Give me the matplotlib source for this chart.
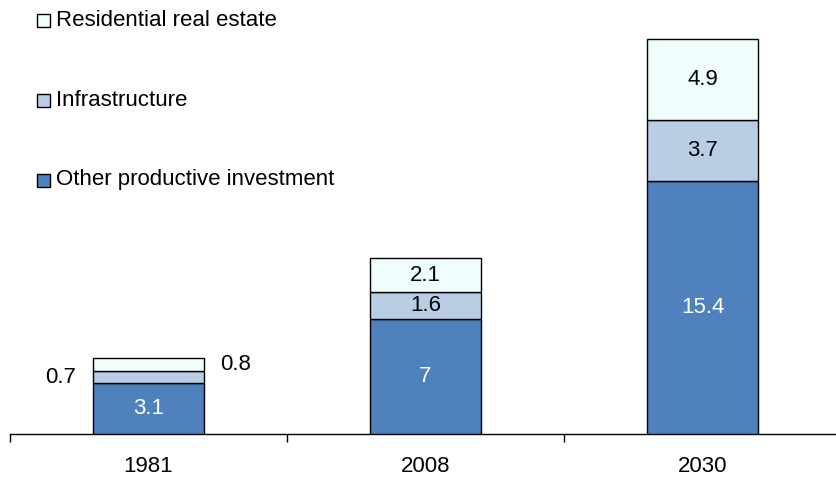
import matplotlib.pyplot as plt
from matplotlib.patches import Rectangle

plt.rcParams['font.family'] = ['Liberation Sans', 'DejaVu Sans']

anos = ['1981', '2008', '2030']
outro_produtivo = [3.1, 7, 15.4]
infraestrutura = [0.7, 1.6, 3.7]
residencial = [0.8, 2.1, 4.9]

series = ['Other productive investment', 'Infrastructure', 'Residential real estate']
cores = ['#4F81BD', '#B9CDE5', '#F0FDFD']

W, H = 836, 479
fig = plt.figure(figsize=(W / 100, H / 100), dpi=100)
ax = fig.add_axes([10 / W, (H - 434) / H, 831 / W, 434 / H])

x = list(range(len(anos)))
largura = 0.4
base = [0] * len(anos)
for valores, cor in zip([outro_produtivo, infraestrutura, residencial], cores):
    ax.bar(x, valores, largura, bottom=base, color=cor, edgecolor='black', linewidth=1, zorder=3)
    base = [b + v for b, v in zip(base, valores)]

# rótulos dos valores
fs = 16
for i in x:
    b0 = outro_produtivo[i]
    b1 = b0 + infraestrutura[i]
    ax.text(i, b0 / 2, f'{outro_produtivo[i]:g}', ha='center', va='center', color='white', fontsize=fs)
    if i == 0:
        ax.text(i - largura / 2 - 0.06, b0 + infraestrutura[i] / 2, f'{infraestrutura[i]:g}',
                ha='right', va='center', fontsize=fs)
        ax.text(i + largura / 2 + 0.06, b1 + residencial[i] / 2, f'{residencial[i]:g}',
                ha='left', va='center', fontsize=fs)
    else:
        ax.text(i, b0 + infraestrutura[i] / 2, f'{infraestrutura[i]:g}', ha='center', va='center', fontsize=fs)
        ax.text(i, b1 + residencial[i] / 2, f'{residencial[i]:g}', ha='center', va='center', fontsize=fs)

ax.set_xlim(-0.5, 2.5)
ax.set_ylim(0, 434 / ((434 - 39) / 24))
for lado in ['top', 'right', 'left']:
    ax.spines[lado].set_visible(False)
ax.spines['bottom'].set_linewidth(1)
ax.set_yticks([])
ax.set_xticks([-0.5, 0.5, 1.5, 2.5])
ax.set_xticklabels([])
ax.set_xticks(x, minor=True)
ax.set_xticklabels(anos, minor=True, fontsize=fs)
ax.tick_params(axis='x', which='major', direction='out', length=6, width=1)
ax.tick_params(axis='x', which='minor', length=0, pad=16)

# legenda manual
ys = [20, 100, 180]
for nome, cor, y in zip(series[::-1], cores[::-1], ys):
    fig.patches.append(Rectangle((37 / W, (H - y - 7) / H), 13 / W, 13 / H, transform=fig.transFigure,
                                 facecolor=cor, edgecolor='black', linewidth=1))
    fig.text(56 / W, (H - y) / H, nome, ha='left', va='center', fontsize=16)

fig.savefig('out.png', dpi=100)
